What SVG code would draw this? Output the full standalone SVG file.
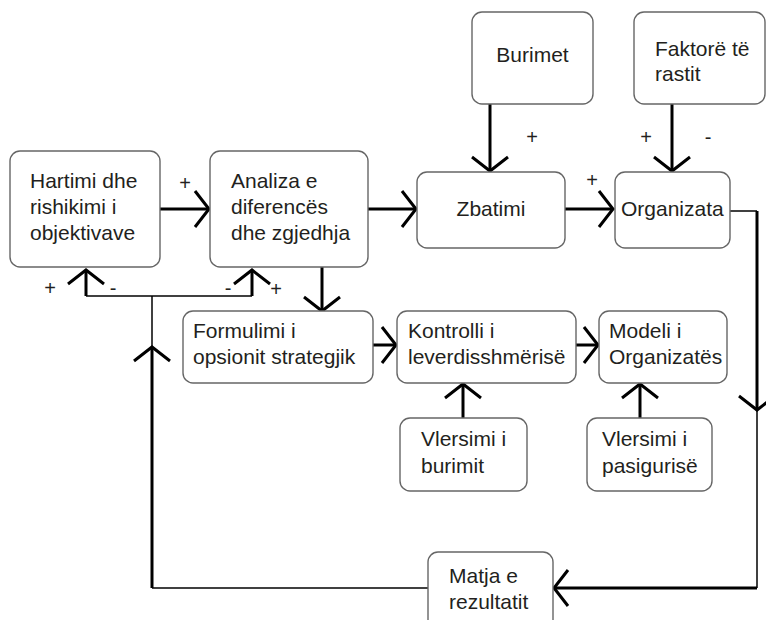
<svg xmlns="http://www.w3.org/2000/svg" width="766" height="620" viewBox="0 0 766 620">
<defs>
<style>
.box{fill:#fff;stroke:#666;stroke-width:1.4}
.t{font-family:"Liberation Sans",Arial,sans-serif;font-size:21px;fill:#231f20}
.c{text-anchor:middle}
.s{font-family:"Liberation Sans",Arial,sans-serif;font-size:20px;fill:#231f20;text-anchor:middle}
.thick{fill:none;stroke:#000;stroke-width:3}
.thin{fill:none;stroke:#000;stroke-width:1.5}
.arr{marker-end:url(#chev)}
</style>
<marker id="chev" markerUnits="userSpaceOnUse" viewBox="-16 -20 20 40" refX="0" refY="0" markerWidth="20" markerHeight="40" orient="auto" overflow="visible">
<path d="M -14 -18 L 0 0 L -14 18" fill="none" stroke="#000" stroke-width="3"/>
</marker>
</defs>
<rect width="766" height="620" fill="#fff"/>

<g id="connectors">
<path class="thick arr" d="M160 209 H209"/>
<path class="thick arr" d="M368 209 H416"/>
<path class="thick arr" d="M565 209 H613"/>
<path class="thick arr" d="M490 104 V171"/>
<path class="thick arr" d="M672 104 V171"/>
<path class="thick arr" d="M322 267 V311"/>
<path class="thick arr" d="M373 345 H396"/>
<path class="thick arr" d="M576 345 H598"/>
<path class="thick arr" d="M463 418 V384"/>
<path class="thick arr" d="M640 418 V384"/>
<path class="thin" d="M730 211 H757"/>
<path class="thick arr" d="M757 211 V410"/>
<path class="thin" d="M757 410 V588"/>
<path class="thick arr" d="M757 588 H554"/>
<path class="thin" d="M428 588 H152"/>
<path class="thick arr" d="M152 588 V347"/>
<path class="thin" d="M152 347 V296"/>
<path class="thin" d="M86 296 H252"/>
<path class="thick arr" d="M86 296 V270"/>
<path class="thick arr" d="M252 296 V270"/>
<text class="s" x="185" y="190">+</text>
<text class="s" x="532" y="144">+</text>
<text class="s" x="646" y="144">+</text>
<text class="s" x="708" y="144">-</text>
<text class="s" x="592" y="187">+</text>
<text class="s" x="50" y="295">+</text>
<text class="s" x="113" y="295">-</text>
<text class="s" x="228" y="295">-</text>
<text class="s" x="276" y="296">+</text>
</g>

<g id="n-hartimi">
<rect class="box" x="10" y="151" width="150" height="116" rx="10"/>
<text class="t" x="30" y="188">Hartimi dhe</text>
<text class="t" x="30" y="214">rishikimi i</text>
<text class="t" x="30" y="240">objektivave</text>
</g>
<g id="n-analiza">
<rect class="box" x="210" y="151" width="158" height="116" rx="10"/>
<text class="t" x="231" y="188">Analiza e</text>
<text class="t" x="231" y="214">diferencës</text>
<text class="t" x="231" y="240">dhe zgjedhja</text>
</g>
<g id="n-zbatimi">
<rect class="box" x="417" y="172" width="148" height="76" rx="10"/>
<text class="t c" x="491" y="216">Zbatimi</text>
</g>
<g id="n-organizata">
<rect class="box" x="615" y="172" width="115" height="76" rx="10"/>
<text class="t" x="621" y="216">Organizata</text>
</g>
<g id="n-burimet">
<rect class="box" x="472" y="12" width="121" height="92" rx="10"/>
<text class="t c" x="532.5" y="62">Burimet</text>
</g>
<g id="n-faktore">
<rect class="box" x="634" y="12" width="131" height="92" rx="10"/>
<text class="t" x="655" y="56">Faktorë të</text>
<text class="t" x="655" y="81">rastit</text>
</g>
<g id="n-formulimi">
<rect class="box" x="183" y="311" width="190" height="72" rx="10"/>
<text class="t" x="193" y="338">Formulimi i</text>
<text class="t" x="193" y="364">opsionit strategjik</text>
</g>
<g id="n-kontrolli">
<rect class="box" x="397" y="311" width="179" height="72" rx="10"/>
<text class="t" x="408" y="338">Kontrolli i</text>
<text class="t" x="408" y="364">leverdisshmërisë</text>
</g>
<g id="n-modeli">
<rect class="box" x="599" y="311" width="128" height="72" rx="10"/>
<text class="t" x="609" y="338">Modeli i</text>
<text class="t" x="609" y="364">Organizatës</text>
</g>
<g id="n-vlersimi-burimit">
<rect class="box" x="400" y="418" width="127" height="73" rx="10"/>
<text class="t" x="421" y="446">Vlersimi i</text>
<text class="t" x="421" y="473">burimit</text>
</g>
<g id="n-vlersimi-pasigurise">
<rect class="box" x="587" y="418" width="125" height="73" rx="10"/>
<text class="t" x="602" y="446">Vlersimi i</text>
<text class="t" x="602" y="473">pasigurisë</text>
</g>
<g id="n-matja">
<rect class="box" x="428" y="552" width="125" height="80" rx="10"/>
<text class="t" x="449" y="583">Matja e</text>
<text class="t" x="449" y="609">rezultatit</text>
</g>
</svg>
